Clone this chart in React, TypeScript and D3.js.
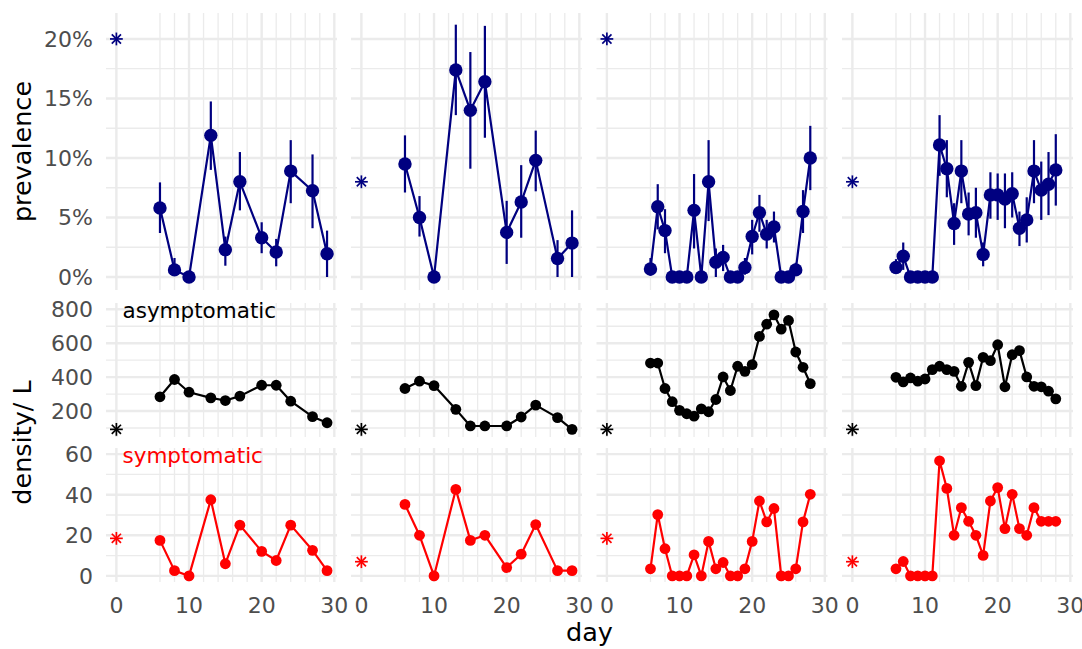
import React from 'react';
import * as d3 from 'd3';

// days sampled
const daysSparse = [6, 8, 10, 13, 15, 17, 20, 22, 24, 27, 29];
const daysDaily = [6, 7, 8, 9, 10, 11, 12, 13, 14, 15, 16, 17, 18, 19, 20, 21, 22, 23, 24, 25, 26, 27, 28];

// prevalence (%) with interval bounds
const prevA = [5.8, 0.6, 0, 11.9, 2.3, 8.0, 3.3, 2.1, 8.9, 7.25, 1.95];
const prevLoA = [3.7, 0.1, 0, 9.0, 0.95, 5.6, 2.0, 0.9, 6.2, 4.1, 0];
const prevHiA = [7.95, 1.6, 0, 14.75, 3.4, 10.5, 4.6, 3.2, 11.5, 10.3, 3.9];

const prevB = [9.5, 5.0, 0, 17.4, 14.0, 16.4, 3.75, 6.3, 9.8, 1.55, 2.85];
const prevLoB = [7.1, 3.4, 0, 13.6, 9.1, 11.7, 1.1, 3.3, 7.2, 0, 0];
const prevHiB = [11.9, 6.8, 0, 21.2, 18.9, 21.1, 6.4, 9.4, 12.3, 3.1, 5.6];

const prevC = [0.67, 5.9, 3.9, 0, 0, 0, 5.6, 0, 8.0, 1.25, 1.65, 0, 0, 0.8, 3.4, 5.4, 3.6, 4.2, 0, 0, 0.6, 5.5, 10.0];
const prevLoC = [0.1, 4.0, 2.0, 0, 0, 0, 2.4, 0, 4.7, 0, 0.5, 0, 0, 0.2, 1.9, 3.8, 2.4, 2.9, 0, 0, 0.1, 3.7, 7.3];
const prevHiC = [1.6, 7.8, 5.7, 0, 0, 0, 8.65, 0, 11.5, 2.4, 2.7, 0, 0, 1.6, 4.8, 6.9, 4.8, 5.5, 0, 0, 1.2, 7.3, 12.7];

const prevD = [0.8, 1.75, 0, 0, 0, 0, 11.1, 9.1, 4.5, 8.9, 5.3, 5.4, 1.9, 6.9, 6.9, 6.55, 7.0, 4.1, 4.8, 8.9, 7.3, 7.8, 9.0];
const prevLoD = [0.3, 0.6, 0, 0, 0, 0, 8.5, 6.7, 2.7, 6.2, 3.5, 3.3, 0.9, 4.9, 4.8, 4.1, 5.0, 2.6, 2.9, 6.2, 4.8, 5.2, 6.0];
const prevHiD = [1.5, 2.9, 0, 0, 0, 0, 13.6, 11.5, 6.2, 11.5, 7.1, 7.5, 2.9, 8.8, 8.7, 8.7, 8.8, 5.5, 6.7, 11.5, 9.7, 10.5, 12.0];

// asymptomatic density / L
const asymA = [284, 386, 311, 278, 262, 288, 352, 352, 258, 167, 131];
const asymB = [333, 376, 350, 210, 112, 112, 112, 165, 235, 161, 92];
const asymC = [483, 483, 333, 255, 204, 184, 170, 213, 196, 268, 401, 321, 464, 434, 474, 640, 712, 767, 683, 734, 548, 458, 362];
const asymD = [399, 372, 395, 376, 389, 444, 464, 444, 434, 346, 487, 350, 517, 497, 591, 343, 532, 556, 401, 346, 343, 317, 272];

// symptomatic density / L
const symA = [17.5, 2.6, 0, 37.5, 6.0, 25, 12.1, 7.6, 25, 12.6, 2.6];
const symB = [35.2, 20, 0, 42.6, 17.5, 20, 4.1, 10.7, 25.3, 2.6, 2.6];
const symC = [3.5, 30.2, 13.4, 0, 0, 0, 10.4, 0, 17, 3.5, 6.6, 0, 0, 3.5, 17, 36.9, 26.6, 33.2, 0, 0, 3.5, 26.6, 40.2];
const symD = [3.5, 7.1, 0, 0, 0, 0, 56.7, 43.1, 20, 33.6, 26.9, 20, 10.1, 36.9, 43.5, 23.3, 40.2, 23.3, 20, 33.6, 26.9, 26.9, 26.9];

// day-0 reference values (asterisks)
const starPrev = [20, 8, 20, 8];
const starAsym = [92, 92, 92, 92];
const starSym = [18.5, 7, 18.5, 7];

// axis ticks
const xTicks = [0, 10, 20, 30];
const xMinor = [6, 8, 12, 14, 16, 18, 22, 24, 26, 28];
const prevTicks = [0, 5, 10, 15, 20];
const prevMinor = [2.5, 7.5, 12.5, 17.5];
const asymTicks = [200, 400, 600, 800];
const asymMinor = [100, 300, 500, 700];
const symTicks = [0, 20, 40, 60];
const symMinor = [10, 30, 50];

const columns = [
  { days: daysSparse, prev: prevA, lo: prevLoA, hi: prevHiA, asym: asymA, sym: symA },
  { days: daysSparse, prev: prevB, lo: prevLoB, hi: prevHiB, asym: asymB, sym: symB },
  { days: daysDaily, prev: prevC, lo: prevLoC, hi: prevHiC, asym: asymC, sym: symC },
  { days: daysDaily, prev: prevD, lo: prevLoD, hi: prevHiD, asym: asymD, sym: symD },
];

const NAVY = '#000080';
const GRID = '#EBEBEB';
const TICK = '#4D4D4D';
const FONT = "'DejaVu Sans', 'Liberation Sans', Arial, sans-serif";

const panelX = [106, 351, 596.5, 842];
const panelW = 231;
const rows = [
  { top: 13, bottom: 290, domain: [-1.09, 22.18] },
  { top: 303, bottom: 437, domain: [47, 837] },
  { top: 448, bottom: 582, domain: [-3, 63] },
];

const Star: React.FC<{ x: number; y: number; color: string }> = ({ x, y, color }) => {
  const r = 6.4, d = 4.6;
  return (
    <g stroke={color} strokeWidth={1.7}>
      <line x1={x} y1={y - r} x2={x} y2={y + r} />
      <line x1={x - r} y1={y} x2={x + r} y2={y} />
      <line x1={x - d} y1={y - d} x2={x + d} y2={y + d} />
      <line x1={x - d} y1={y + d} x2={x + d} y2={y - d} />
    </g>
  );
};

export default function App() {
  const yScales = rows.map(r =>
    d3.scaleLinear().domain(r.domain).range([r.bottom, r.top])
  );
  const rowTicks = [
    { major: prevTicks, minor: prevMinor, fmt: (v: number) => `${v}%` },
    { major: asymTicks, minor: asymMinor, fmt: (v: number) => `${v}` },
    { major: symTicks, minor: symMinor, fmt: (v: number) => `${v}` },
  ];

  return (
    <svg width={1082} height={649} style={{ position: 'absolute', left: 0, top: 0, background: '#fff' }}
      fontFamily={FONT}>
      {columns.map((col, ci) => {
        const x = d3.scaleLinear().domain([-1.43, 30.37]).range([panelX[ci], panelX[ci] + panelW]);
        const x0 = panelX[ci], x1 = panelX[ci] + panelW;
        const series = [col.prev, col.asym, col.sym];
        const colors = [NAVY, '#000000', '#FF0000'];
        const stars = [starPrev[ci], starAsym[ci], starSym[ci]];
        return (
          <g key={ci}>
            {rows.map((r, ri) => {
              const y = yScales[ri];
              const t = rowTicks[ri];
              const line = d3.line<number>()
                .x((_, i) => x(col.days[i]))
                .y(v => y(v));
              return (
                <g key={ri}>
                  {t.minor.map(v => (
                    <line key={`hm${v}`} x1={x0} x2={x1} y1={y(v)} y2={y(v)} stroke={GRID} strokeWidth={1.3} />
                  ))}
                  {t.major.map(v => (
                    <line key={`hM${v}`} x1={x0} x2={x1} y1={y(v)} y2={y(v)} stroke={GRID} strokeWidth={2.4} />
                  ))}
                  {xMinor.map(d => (
                    <line key={`vm${d}`} x1={x(d)} x2={x(d)} y1={r.top} y2={r.bottom} stroke={GRID} strokeWidth={1.3} />
                  ))}
                  {xTicks.map(d => (
                    <line key={`vM${d}`} x1={x(d)} x2={x(d)} y1={r.top} y2={r.bottom} stroke={GRID} strokeWidth={2.4} />
                  ))}
                  {ri === 0 && col.days.map((d, i) => (
                    <line key={`e${i}`} x1={x(d)} x2={x(d)} y1={y(col.lo[i])} y2={y(col.hi[i])}
                      stroke={NAVY} strokeWidth={2.2} />
                  ))}
                  <path d={line(series[ri]) || ''} fill="none" stroke={colors[ri]} strokeWidth={2.2} strokeLinejoin="round" />
                  {series[ri].map((v, i) => (
                    <circle key={`p${i}`} cx={x(col.days[i])} cy={y(v)} r={ri === 0 ? 6.7 : 5.4} fill={colors[ri]} />
                  ))}
                  <Star x={x(0)} y={y(stars[ri])} color={colors[ri]} />
                </g>
              );
            })}
            {xTicks.map(d => (
              <text key={`xt${d}`} x={x(d)} y={613} textAnchor="middle" fontSize={22} fill={TICK}>{d}</text>
            ))}
          </g>
        );
      })}

      {rows.map((r, ri) => {
        const y = yScales[ri];
        const t = rowTicks[ri];
        return t.major.map(v => (
          <text key={`yt${ri}-${v}`} x={93} y={y(v)} dy="0.36em" textAnchor="end" fontSize={22} fill={TICK}>
            {t.fmt(v)}
          </text>
        ));
      })}

      <text x={122.5} y={yScales[1](800)} dy={9.2} fontSize={21.5} fill="#000000">asymptomatic</text>
      <text x={122.5} y={yScales[2](60)} dy={9.2} fontSize={21.5} fill="#FF0000">symptomatic</text>

      <text transform={`translate(31,${(rows[0].top + rows[0].bottom) / 2}) rotate(-90)`} textAnchor="middle" fontSize={25.5} fill="#000">
        prevalence
      </text>
      <text transform={`translate(31,${(rows[1].top + rows[2].bottom) / 2}) rotate(-90)`} textAnchor="middle" fontSize={25.5} fill="#000">
        density/ L
      </text>
      <text x={(panelX[0] + panelX[3] + panelW) / 2} y={641} textAnchor="middle" fontSize={25.5} fill="#000">day</text>
    </svg>
  );
}
